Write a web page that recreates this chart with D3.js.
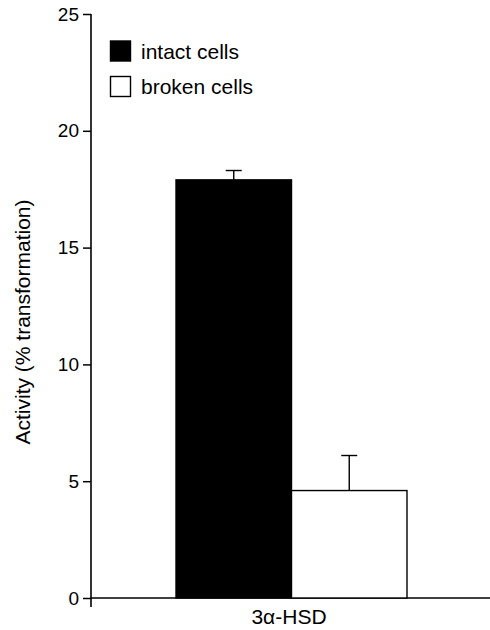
<!DOCTYPE html>
<html><head><meta charset="utf-8">
<script src="https://cdn.jsdelivr.net/npm/d3@7"></script>
<style>body{margin:0;background:#fff}svg{display:block}text{font-family:"Liberation Sans",Arial,sans-serif;fill:#000}</style>
</head><body><svg id="c" width="490" height="630"></svg>
<script>
const series = ["intact cells", "broken cells"];
const values = [17.9, 4.6];
const errors = [0.4, 1.5];
const fills = ["#000", "#fff"];
const yTicks = [0, 5, 10, 15, 20, 25];
const category = "3α-HSD";
const yLabel = "Activity (% transformation)";

const svg = d3.select("#c");
const y = d3.scaleLinear().domain([0, 25]).range([598, 14]);
const x = d3.scaleBand().domain(series).range([176, 407]).paddingInner(0);
const axisX = 91;

// y axis
const ga = svg.append("g").attr("transform", `translate(${axisX},0)`);
ga.call(d3.axisLeft(y).tickValues(yTicks).tickSize(8).tickPadding(4).tickSizeOuter(0));
ga.select(".domain").remove();
ga.selectAll(".tick line").attr("stroke", "#000").attr("stroke-width", 1.5);
ga.selectAll(".tick text").attr("font-size", 19).attr("font-family", '"Liberation Sans",Arial,sans-serif');
svg.append("line").attr("x1", axisX).attr("x2", axisX).attr("y1", y(25)).attr("y2", 607)
  .attr("stroke", "#000").attr("stroke-width", 1.6);
// x axis
svg.append("line").attr("x1", axisX).attr("x2", 490).attr("y1", y(0)).attr("y2", y(0))
  .attr("stroke", "#000").attr("stroke-width", 1.6);

// bars
svg.selectAll("rect.bar").data(series).join("rect").attr("class", "bar")
  .attr("x", d => x(d)).attr("width", x.bandwidth())
  .attr("y", (d, i) => y(values[i])).attr("height", (d, i) => y(0) - y(values[i]))
  .attr("fill", (d, i) => fills[i]).attr("stroke", "#000").attr("stroke-width", 1.4);

// error bars
series.forEach((d, i) => {
  const cx = x(d) + x.bandwidth() / 2;
  svg.append("line").attr("x1", cx).attr("x2", cx).attr("y1", y(values[i])).attr("y2", y(values[i] + errors[i]))
    .attr("stroke", "#000").attr("stroke-width", 1.4);
  svg.append("line").attr("x1", cx - 8).attr("x2", cx + 8).attr("y1", y(values[i] + errors[i])).attr("y2", y(values[i] + errors[i]))
    .attr("stroke", "#000").attr("stroke-width", 1.4);
});

// legend
series.forEach((d, i) => {
  const ly = 41 + i * 35.5;
  svg.append("rect").attr("x", 110.5).attr("y", ly).attr("width", 20).attr("height", 20)
    .attr("fill", fills[i]).attr("stroke", "#000").attr("stroke-width", 1.4);
  svg.append("text").attr("x", 141).attr("y", ly + 17.5).attr("font-size", 21).text(d);
});

// labels
svg.append("text").attr("x", 289).attr("y", 624).attr("text-anchor", "middle").attr("font-size", 21).text(category);
svg.append("text").attr("transform", "translate(30,322) rotate(-90)").attr("text-anchor", "middle")
  .attr("font-size", 21).text(yLabel);
</script></body></html>
